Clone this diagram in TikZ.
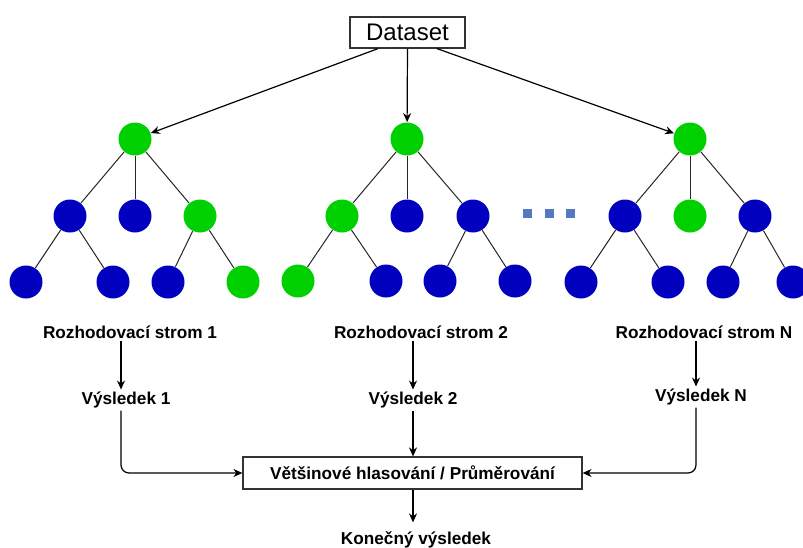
\documentclass[tikz,border=0pt]{standalone}
\usepackage{fontspec}
\setmainfont{Liberation Sans}
\usetikzlibrary{arrows.meta}
\definecolor{leafgreen}{RGB}{0,208,0}
\definecolor{nodeblue}{RGB}{0,0,190}
\definecolor{dotblue}{RGB}{85,120,190}

\begin{document}
\begin{tikzpicture}[x=0.5pt,y=-0.5pt,
  gnode/.style={circle,fill=leafgreen,minimum size=16.5pt,inner sep=0pt},
  bnode/.style={circle,fill=nodeblue,minimum size=16.5pt,inner sep=0pt},
  edge/.style={draw=black!85,line width=0.5pt},
  arr/.style={draw=black,line width=0.6pt,-{Stealth[length=4.5pt,width=4pt]}},
  lbl/.style={font=\fontsize{8.6pt}{10pt}\selectfont\bfseries,inner sep=1pt},
  dotsq/.style={fill=dotblue,minimum size=4.5pt,inner sep=0pt}
]
\useasboundingbox (0,0) rectangle (803,547);
\clip (0,0) rectangle (803,547);

% input data
\node[draw=black!80,line width=0.6pt,minimum width=57.5pt,minimum height=15.5pt,inner sep=0pt,
      font=\fontsize{12pt}{14pt}\selectfont] (ds) at (407.5,32.5) {Dataset};

% tree 1
\node[gnode] (t1r)  at (135,139) {};
\node[bnode] (t1a)  at (70,216)  {};
\node[bnode] (t1b)  at (135,216) {};
\node[gnode] (t1c)  at (200,216) {};
\node[bnode] (t1a1) at (26,282)  {};
\node[bnode] (t1a2) at (113,282) {};
\node[bnode] (t1c1) at (168,282) {};
\node[gnode] (t1c2) at (243,282) {};
\draw[edge] (t1r) -- (t1a);
\draw[edge] (t1r) -- (t1b);
\draw[edge] (t1r) -- (t1c);
\draw[edge] (t1a) -- (t1a1);
\draw[edge] (t1a) -- (t1a2);
\draw[edge] (t1c) -- (t1c1);
\draw[edge] (t1c) -- (t1c2);

% tree 2
\node[gnode] (t2r)  at (407,139) {};
\node[gnode] (t2a)  at (342,216) {};
\node[bnode] (t2b)  at (407,216) {};
\node[bnode] (t2c)  at (473,216) {};
\node[gnode] (t2a1) at (298,281) {};
\node[bnode] (t2a2) at (386,281) {};
\node[bnode] (t2c1) at (440,281) {};
\node[bnode] (t2c2) at (515,281) {};
\draw[edge] (t2r) -- (t2a);
\draw[edge] (t2r) -- (t2b);
\draw[edge] (t2r) -- (t2c);
\draw[edge] (t2a) -- (t2a1);
\draw[edge] (t2a) -- (t2a2);
\draw[edge] (t2c) -- (t2c1);
\draw[edge] (t2c) -- (t2c2);

% ellipsis between trees
\node[dotsq] (d1) at (527,213) {};
\node[dotsq] (d2) at (549,213) {};
\node[dotsq] (d3) at (570,213) {};

% tree N
\node[gnode] (t3r)  at (690,139) {};
\node[bnode] (t3a)  at (625,216) {};
\node[gnode] (t3b)  at (690,216) {};
\node[bnode] (t3c)  at (755,216) {};
\node[bnode] (t3a1) at (581,282) {};
\node[bnode] (t3a2) at (668,282) {};
\node[bnode] (t3c1) at (723,282) {};
\node[bnode] (t3c2) at (793,282) {};
\draw[edge] (t3r) -- (t3a);
\draw[edge] (t3r) -- (t3b);
\draw[edge] (t3r) -- (t3c);
\draw[edge] (t3a) -- (t3a1);
\draw[edge] (t3a) -- (t3a2);
\draw[edge] (t3c) -- (t3c1);
\draw[edge] (t3c) -- (t3c2);

% dataset feeds each tree
\coordinate (dl) at (378,0);
\coordinate (dr) at (437,0);
\draw[arr] (ds.south -| dl) -- (t1r);
\draw[arr] (ds.south) -- (t2r);
\draw[arr] (ds.south -| dr) -- (t3r);

% tree labels and results
\node[lbl] (r1) at (130,332) {Rozhodovací strom 1};
\node[lbl] (r2) at (421,332) {Rozhodovací strom 2};
\node[lbl] (r3) at (704,332) {Rozhodovací strom N};
\node[lbl] (v1) at (126,400) {Výsledek 1};
\node[lbl] (v2) at (413,400) {Výsledek 2};
\node[lbl] (v3) at (701,397) {Výsledek N};

\coordinate (x1) at (121,0);
\coordinate (x2) at (413,0);
\coordinate (x3) at (696,0);
\draw[arr] (r1.south -| x1) -- (v1.north -| x1);
\draw[arr] (r2.south -| x2) -- (v2.north -| x2);
\draw[arr] (r3.south -| x3) -- (v3.north -| x3);

% aggregation
\node[draw=black!80,line width=0.6pt,minimum width=169.5pt,minimum height=16pt,inner sep=0pt,
      font=\fontsize{8.6pt}{10pt}\selectfont\bfseries] (vote) at (412.5,473) {Většinové hlasování / Průměrování};

\draw[arr,rounded corners=4pt] (v1.south -| x1) |- (vote.west);
\draw[arr] (v2.south -| x2) -- (vote.north -| x2);
\draw[arr,rounded corners=4pt] (v3.south -| x3) |- (vote.east);

\node[lbl] (fin) at (416,540) {Konečný výsledek};
\draw[arr,shorten >=3.5pt] (vote.south -| x2) -- (fin.north -| x2);
\end{tikzpicture}
\end{document}
